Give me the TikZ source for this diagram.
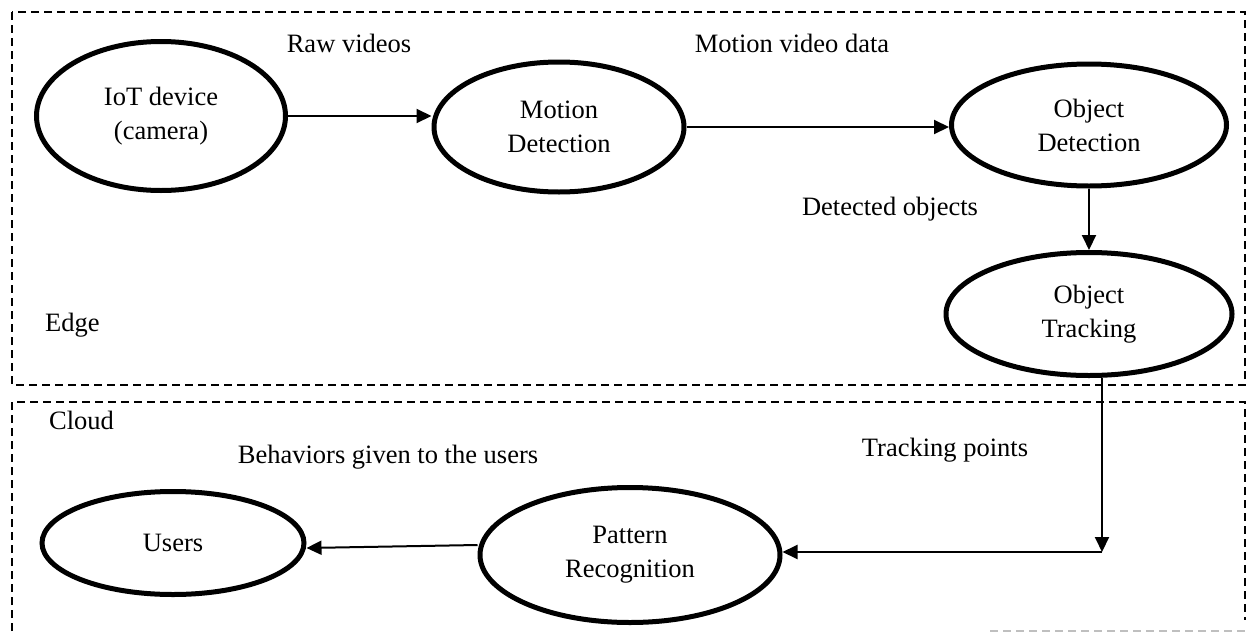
\documentclass[tikz,border=0pt]{standalone}
\usepackage{fontspec}
\setmainfont{Liberation Serif}
\usetikzlibrary{shapes.geometric,arrows.meta,calc}
\begin{document}
\begin{tikzpicture}[x=1pt,y=-1pt,
  proc/.style={draw,ellipse,line width=5pt,inner sep=0pt,align=center,
    font=\fontsize{26.5}{34}\selectfont},
  lbl/.style={font=\fontsize{26.5}{34}\selectfont,inner sep=0pt},
  zone/.style={dashed,dash pattern=on 8pt off 5pt,line width=1.5pt},
  flow/.style={line width=2pt,-{Triangle[length=15pt,width=14pt]}},
  plain/.style={line width=2pt}]
\useasboundingbox (0,0) rectangle (1248,632);
% zones
\draw[zone] (12,12) rectangle (1245,385);
\draw[zone] (12,631) -- (12,402) -- (1245,402) -- (1245,620);
\draw[zone,gray!50] (990,631) -- (1245,631);
\node[lbl,anchor=west] (edge) at (45,325) {Edge};
\node[lbl,anchor=west] (cloud) at (49,420) {Cloud};
% processes
\node[proc,minimum width=249pt,minimum height=149pt] (iot) at (161,116) {IoT device\\(camera)};
\node[proc,minimum width=250pt,minimum height=130pt] (motion) at (559,127) {Motion\\Detection};
\node[proc,minimum width=275pt,minimum height=122pt] (objdet) at (1089,125) {Object\\Detection};
\node[proc,minimum width=286pt,minimum height=123pt] (track) at (1089,314) {Object\\Tracking};
\node[proc,minimum width=262pt,minimum height=103pt] (users) at (173,543) {Users};
\node[proc,minimum width=300pt,minimum height=135pt] (pattern) at (630,555) {Pattern\\Recognition};
% labels
\node[lbl] (raw) at (349,43) {Raw videos};
\node[lbl] (mvd) at (792,43) {Motion video data};
\node[lbl] (det) at (890,209) {Detected objects};
\node[lbl] (beh) at (388,457) {Behaviors given to the users};
\node[lbl] (tp) at (945,450) {Tracking points};
% connectors
\coordinate (corner) at (1102,552);
\draw[flow] (iot.east) -- (iot.east -| motion.west);
\draw[flow] (motion.east) -- (motion.east -| objdet.west);
\draw[flow] (objdet.south) -- (track.north);
\draw[flow] (track.south -| corner) -- (corner);
\draw[flow] (corner) -- (corner -| pattern.east);
\draw[flow] ([yshift=10pt]pattern.west) -- ([yshift=-5pt]users.east);
\end{tikzpicture}
\end{document}
